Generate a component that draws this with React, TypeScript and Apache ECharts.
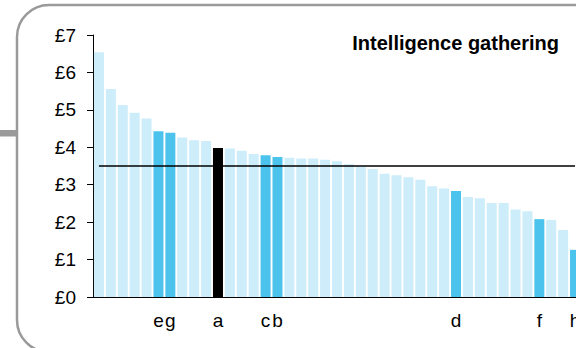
import React, { useEffect, useRef } from "react";
import * as echarts from "echarts";

const categories: string[] = [
  "", "", "", "", "", "e", "g", "", "", "", "a", "", "", "", "c", "b", "", "", "", "", "",
  "", "", "", "", "", "", "", "", "", "d", "", "", "", "", "", "", "f", "", "", "h",
];
const values: number[] = [
  6.54, 5.56, 5.13, 4.92, 4.77, 4.43, 4.39, 4.26, 4.19, 4.17, 3.98, 3.97, 3.91, 3.82, 3.79, 3.74,
  3.72, 3.7, 3.7, 3.67, 3.63, 3.55, 3.48, 3.42, 3.29, 3.25, 3.2, 3.13, 2.96, 2.9, 2.83, 2.67,
  2.64, 2.51, 2.51, 2.34, 2.29, 2.08, 2.06, 1.79, 1.26,
];
// 0 = other, 1 = highlighted, 2 = focus
const kinds: number[] = [
  0, 0, 0, 0, 0, 1, 1, 0, 0, 0, 2, 0, 0, 0, 1, 1, 0, 0, 0, 0, 0,
  0, 0, 0, 0, 0, 0, 0, 0, 0, 1, 0, 0, 0, 0, 0, 0, 1, 0, 0, 1,
];
const average = 3.52;
const yTicks: string[] = ["£0", "£1", "£2", "£3", "£4", "£5", "£6", "£7"];
const titleText = "Intelligence gathering";

const colours = ["#CCEDF9", "#4BC3EC", "#000000"];
const FONT = "'Liberation Sans', Arial, Helvetica, sans-serif";

export default function App() {
  const ref = useRef<HTMLDivElement>(null);
  useEffect(() => {
    if (!ref.current) return;
    const chart = echarts.init(ref.current, undefined, { renderer: "svg" });
    chart.setOption({
      animation: false,
      grid: { left: 93, top: 35, width: 488, bottom: 51 },
      xAxis: {
        type: "category",
        data: categories,
        axisLine: { lineStyle: { color: "#000", width: 1 } },
        axisTick: { show: false },
        axisLabel: { interval: 0, color: "#000", fontSize: 19, fontFamily: FONT, margin: 14 },
      },
      yAxis: {
        type: "value",
        min: 0,
        max: 7,
        interval: 1,
        splitLine: { show: false },
        axisLine: { show: true, lineStyle: { color: "#000", width: 1 } },
        axisTick: { show: true, length: 6, lineStyle: { color: "#000" } },
        axisLabel: {
          color: "#000",
          fontSize: 19,
          fontFamily: FONT,
          margin: 17,
          formatter: (v: number) => yTicks[Math.round(v)] ?? "",
        },
      },
      series: [
        {
          type: "bar",
          barCategoryGap: "16%",
          data: values.map((v, i) => ({ value: v, itemStyle: { color: colours[kinds[i]] } })),
          markLine: {
            silent: true,
            symbol: ["none", "none"],
            label: { show: false },
            lineStyle: { color: "#000", width: 1.6, type: "solid" },
            data: [
              [
                { xAxis: 0, yAxis: average },
                { xAxis: categories.length - 1, yAxis: average },
              ],
            ],
          },
        },
      ],
      graphic: [
        {
          type: "rect",
          shape: { x: 17, y: 5, width: 600, height: 347, r: 32 },
          style: { fill: "none", stroke: "#9a9a9a", lineWidth: 2.5 },
          z: -1,
        },
        {
          type: "rect",
          shape: { x: 0, y: 130, width: 17, height: 6.5 },
          style: { fill: "#9a9a9a" },
        },
        {
          type: "text",
          x: 559,
          y: 43,
          style: {
            text: titleText,
            fill: "#000",
            font: `bold 20px ${FONT}`,
            textAlign: "right",
            textVerticalAlign: "middle",
          },
        },
      ],
    });
    return () => chart.dispose();
  }, []);
  return (
    <div style={{ position: "absolute", left: 0, top: 0, width: 576, height: 348, overflow: "hidden", background: "#fff" }}>
      <div ref={ref} style={{ width: 600, height: 348 }} />
    </div>
  );
}
